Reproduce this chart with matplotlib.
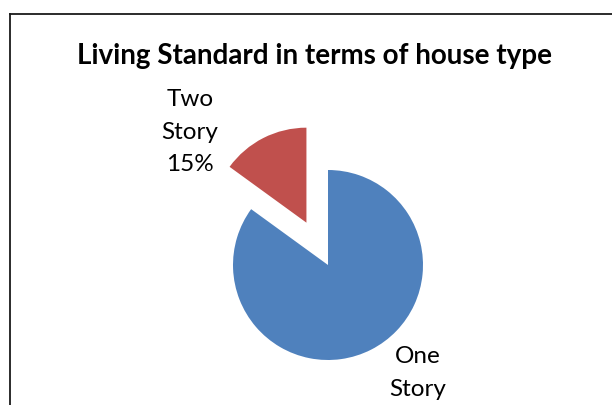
import matplotlib.pyplot as plt
from matplotlib.lines import Line2D

# Data
labels = ["One\nStory", "Two\nStory"]
shares = [85, 15]
colors = ["#4F81BD", "#C0504D"]
explode = [0, 0.5]  # fraction of radius
show_pct = [False, True]  # the One Story percentage is cropped off in the source

W, H = 612, 406
fig = plt.figure(figsize=(W / 100, H / 100), dpi=100)
ax = fig.add_axes([0, 0, 1, 1])

# pie in pixel units (y up)
cx, cy, r = 328, H - 266, 95
ax.pie(
    shares,
    colors=colors,
    explode=[e * r for e in explode],
    startangle=90,
    counterclock=False,
    center=(cx, cy),
    radius=r,
    frame=True,
    wedgeprops=dict(linewidth=0),
)
ax.set_xlim(0, W)
ax.set_ylim(0, H)
ax.set_aspect("equal")
ax.axis("off")

# data labels
label_pos = [(418, H - 346), (190, H - 89)]
for lab, val, show, (lx, ly) in zip(labels, shares, show_pct, label_pos):
    txt = f"{lab}\n{val}%" if show else lab
    ax.text(lx, ly, txt, ha="center", va="top",
            fontsize=17.5, family="Lato", linespacing=1.68)

# title
fig.text(315 / W, 1 - 56 / H, "Living Standard in terms of house type",
         ha="center", va="center", fontsize=20, fontweight="bold",
         family="Lato")

# chart border (cropped)
fig.add_artist(Line2D([9.5 / W, 9.5 / W], [0, 1 - 14.5 / H],
                      transform=fig.transFigure, color="#1a1a1a", lw=1.3))
fig.add_artist(Line2D([9.5 / W, 1], [1 - 14.5 / H, 1 - 14.5 / H],
                      transform=fig.transFigure, color="#1a1a1a", lw=1.3))

fig.savefig("out.png", dpi=100)
